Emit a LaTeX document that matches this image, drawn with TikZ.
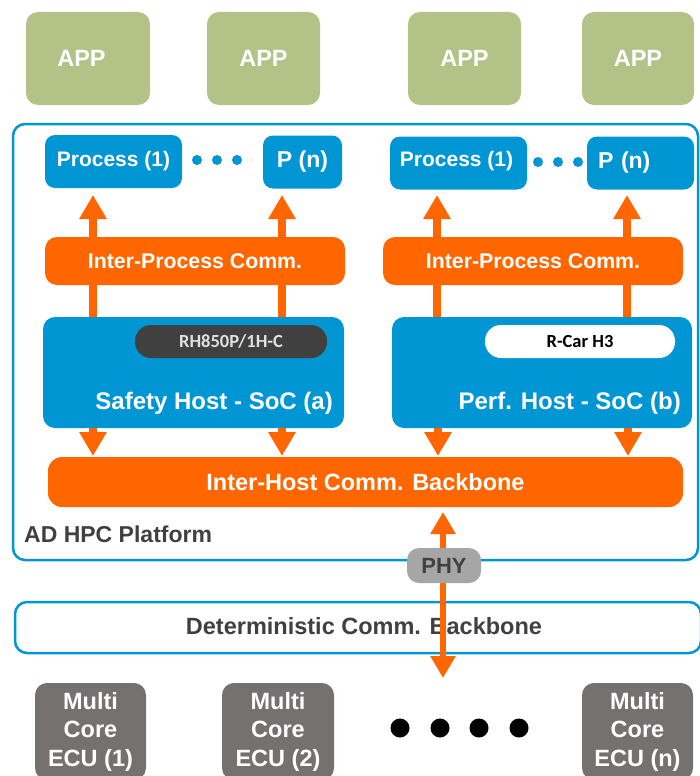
\documentclass[tikz,border=0pt]{standalone}
\usepackage{fontspec}
\setmainfont{Liberation Sans}
\newfontfamily\chipfont{Carlito}
\usetikzlibrary{arrows.meta,backgrounds}

\definecolor{appgreen}{RGB}{179,194,135}
\definecolor{hpcblue}{RGB}{0,150,212}
\definecolor{hpcorange}{RGB}{255,102,0}
\definecolor{chipdark}{RGB}{64,64,64}
\definecolor{phygray}{RGB}{166,166,166}
\definecolor{ecugray}{RGB}{118,113,113}
\definecolor{labelgray}{RGB}{64,64,64}

\begin{document}
\begin{tikzpicture}[x=1pt,y=-1pt,
  bold/.style={font=\fontsize{#1}{#1}\selectfont\bfseries},
  appbox/.style={fill=appgreen, rounded corners=12pt, text=white, bold=23.5, inner sep=0pt},
  procbox/.style={fill=hpcblue, rounded corners=10pt, text=white, bold=21, inner sep=0pt},
  ipcbox/.style={fill=hpcorange, rounded corners=12pt, text=white, bold=21.3, inner sep=0pt},
  socbox/.style={fill=hpcblue, rounded corners=12pt, inner sep=0pt},
  soclabel/.style={text=white, bold=24, inner sep=0pt, anchor=east},
  chipbox/.style={rounded corners=16pt, inner sep=0pt, minimum height=33pt,
    font=\fontsize{18.5}{18.5}\selectfont\chipfont\bfseries},
  frame/.style={draw=hpcblue, line width=2.5pt, rounded corners=12pt},
  flow/.style={draw=hpcorange, line width=8pt, -{Triangle[width=26pt,length=24pt]}},
  dualflow/.style={draw=hpcorange, line width=6.5pt,
    {Triangle[width=24pt,length=22pt]}-{Triangle[width=24pt,length=22pt]}},
  ecubox/.style={fill=ecugray, rounded corners=12pt, text=white, align=center,
    font=\fontsize{23.5}{28.5}\selectfont\bfseries, inner sep=0pt},
  dot/.style={circle, fill=#1, inner sep=0pt}
]
\useasboundingbox (0,0) rectangle (699,776);

% platform frame and the deterministic backbone below it
\draw[frame] (13,124) rectangle (698,560);
\node[frame, fill=white, minimum width=686pt, minimum height=51pt]
  (det) at (358,627.5) {};
\node[text=labelgray, bold=23.5, inner sep=0pt] (detlabel) at (364,626) {Deterministic Comm. Backbone};

% applications
\node[appbox, minimum width=124pt, minimum height=93pt] (app1) at (88,58.5) {\kern-13pt APP};
\node[appbox, minimum width=113pt, minimum height=93pt] (app2) at (263.5,58.5) {APP};
\node[appbox, minimum width=113pt, minimum height=93pt] (app3) at (464.5,58.5) {APP};
\node[appbox, minimum width=112pt, minimum height=93pt] (app4) at (638,58.5) {APP};

% processes
\node[procbox, minimum width=137pt, minimum height=53pt] (procL) at (113.5,161.5) {\raisebox{6pt}{Process (1)}};
\node[procbox, minimum width=79pt, minimum height=53pt, bold=23] (pnL) at (302.5,162) {P (n)};
\node[procbox, minimum width=137pt, minimum height=53pt] (procR) at (458.5,163) {\kern-4pt\raisebox{8pt}{Process (1)}};
\node[procbox, minimum height=53pt, bold=23, inner xsep=11pt, text width=85pt, align=left] (pnR) at (640.5,163) {P (n)};
\foreach \x [count=\i] in {197,217,237} \node[dot=hpcblue, minimum size=10pt] (dl\i) at (\x,160) {};
\foreach \x [count=\i] in {538,558,578} \node[dot=hpcblue, minimum size=10pt] (dr\i) at (\x,162) {};

% inter-process communication
\node[ipcbox, minimum width=300pt, minimum height=48pt] (ipcL) at (195,261) {Inter-Process Comm.};
\node[ipcbox, minimum width=300pt, minimum height=48pt] (ipcR) at (533,261) {Inter-Process Comm.};

% hosts
\node[socbox, minimum width=301pt, minimum height=111pt] (socL) at (193.5,372.5) {};
\node[socbox, minimum width=300pt, minimum height=111pt] (socR) at (542,372.5) {};
\node[chipbox, fill=chipdark, text=white!88!black, minimum width=192pt] (chipL) at (231,341.5) {RH850P/1H-C};
\node[chipbox, fill=white, text=black, minimum width=190pt] (chipR) at (580,341.5) {R-Car H3};
\node[soclabel] (socLlabel) at (333,403) {Safety Host - SoC (a)};
\node[soclabel] (socRlabel) at (681,403) {Perf. Host - SoC (b)};

% backbone between hosts
\node[ipcbox, rounded corners=14pt, minimum width=635pt, minimum height=50pt, bold=23.5] (backbone) at (365.5,482) {Inter-Host Comm. Backbone};

% arrow columns
\coordinate (c1) at (93,195);
\coordinate (c2) at (282,195);
\coordinate (c3) at (437,195);
\coordinate (c4) at (627,195);
\coordinate (d1) at (93,456);
\coordinate (d2) at (282,456);
\coordinate (d3) at (438,456);
\coordinate (d4) at (628,456);

\begin{scope}[on background layer]
  \draw[flow] (socL.north -| c1) -- (c1);
  \draw[flow] (socL.north -| c2) -- (c2);
  \draw[flow] (socR.north -| c3) -- (c3);
  \draw[flow] (socR.north -| c4) -- (c4);
\end{scope}
\draw[flow] (socL.south -| d1) -- (d1);
\draw[flow] (socL.south -| d2) -- (d2);
\draw[flow] (socR.south -| d3) -- (d3);
\draw[flow] (socR.south -| d4) -- (d4);

% physical link down to the ECUs
\coordinate (phyTop) at (443,512);
\coordinate (phyBot) at (443,678);
\draw[dualflow] (phyBot) -- (phyTop);
\node[fill=phygray, rounded corners=12pt, minimum width=74pt, minimum height=35pt, inner sep=0pt,
  text=labelgray, bold=22] (phy) at (444,565.5) {PHY};

\node[text=labelgray, bold=23, inner sep=0pt, anchor=west] (platform) at (24,534) {AD HPC Platform};

% ECUs
\node[ecubox, minimum width=111pt, minimum height=97pt] (ecu1) at (90.5,731.5) {Multi\\Core\\ECU (1)};
\node[ecubox, minimum width=112pt, minimum height=97pt] (ecu2) at (278,731.5) {Multi\\Core\\ECU (2)};
\node[ecubox, minimum width=111pt, minimum height=97pt] (ecu3) at (637.5,731.5) {Multi\\Core\\ECU (n)};
\foreach \x [count=\i] in {400,440,479,519} \node[dot=black, minimum size=19pt] (e\i) at (\x,728) {};
\end{tikzpicture}
\end{document}
